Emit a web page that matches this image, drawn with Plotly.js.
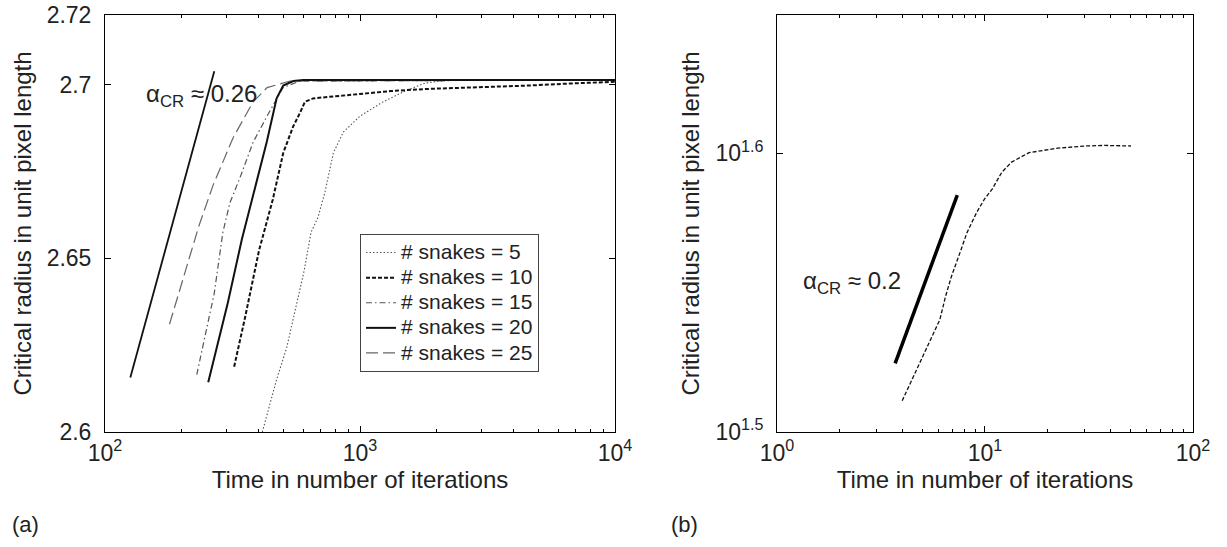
<!DOCTYPE html>
<html><head><meta charset="utf-8">
<script src="https://cdn.plot.ly/plotly-3.0.1.min.js"></script>
<style>body{margin:0;background:#fff}#c{width:1227px;height:547px}</style>
</head><body><div id="c"></div>
<script>
// ---- panel (a) data ----
const fitA_x = [125.7, 268.3];
const fitA_y = [2.6157, 2.7038];
const s5_x  = [414, 470, 516, 565, 604, 643, 684, 729, 786, 860, 1000, 1231, 1501, 1798, 2174, 2955, 10000];
const s5_y  = [2.6, 2.6149, 2.6243, 2.6371, 2.6464, 2.6575, 2.6617, 2.6691, 2.6803, 2.6863, 2.6909, 2.695, 2.6981, 2.7004, 2.7012, 2.7013, 2.7013];
const s10_x = [321, 355, 402, 455, 500, 546, 582, 608, 654, 784, 965, 1318, 1798, 2463, 3370, 4599, 6292, 8601, 10000];
const s10_y = [2.6188, 2.6333, 2.6523, 2.6669, 2.6803, 2.6878, 2.6919, 2.695, 2.696, 2.6966, 2.6971, 2.6981, 2.6987, 2.699, 2.6992, 2.6997, 2.7002, 2.7006, 2.7008];
const s15_x = [229, 245, 268, 290, 309, 338, 381, 432, 499, 582, 10000];
const s15_y = [2.6165, 2.6268, 2.6398, 2.6575, 2.666, 2.6731, 2.6834, 2.6909, 2.6991, 2.701, 2.7013];
const s20_x = [254, 303, 344, 396, 431, 471, 500, 548, 599, 10000];
const s20_y = [2.6143, 2.6371, 2.6554, 2.6731, 2.6835, 2.696, 2.6997, 2.701, 2.7013, 2.7013];
const s25_x = [179, 202, 233, 265, 318, 381, 432, 532, 10000];
const s25_y = [2.631, 2.6436, 2.6591, 2.6709, 2.6847, 2.695, 2.6991, 2.701, 2.7013];
const legendNames = ["# snakes = 5", "# snakes = 10", "# snakes = 15", "# snakes = 20", "# snakes = 25"];
const yTicksA = [2.6, 2.65, 2.7, 2.72];
const yTickTextA = ["2.6", "2.65", "2.7", "2.72"];
const xTicksA = [100, 1000, 10000];
const xTickTextA = ["10<sup>2</sup>", "10<sup>3</sup>", "10<sup>4</sup>"];

// ---- panel (b) data ----
const fitB_x = [3.70, 7.36];
const fitB_y = [33.47, 38.46];
const curveB_x = [4.0, 4.59, 5.45, 6.07, 6.47, 6.90, 7.68, 8.19, 9.12, 9.94, 10.83, 12.05, 13.42, 16.28, 22.46, 30.33, 37.6, 50.3];
const curveB_y = [32.45, 33.19, 34.13, 34.70, 35.38, 35.96, 36.77, 37.28, 37.91, 38.33, 38.65, 39.19, 39.52, 39.83, 39.98, 40.05, 40.07, 40.05];
const yTicksB = [31.6228, 39.8107];
const yTickTextB = ["10<sup>1.5</sup>", "10<sup>1.6</sup>"];
const xTicksB = [1, 10, 100];
const xTickTextB = ["10<sup>0</sup>", "10<sup>1</sup>", "10<sup>2</sup>"];

function minors(d0, d1){ const a=[]; for(let d=d0; d<d1; d++){ for(let k=2;k<=9;k++) a.push(k*Math.pow(10,d)); } return a; }
function big(s){ return '<span style="font-size:21px">' + s + '</span>'; }

const FONT = "Liberation Sans, Arial, Helvetica, sans-serif";
const TXT = "#222";

const traces = [
  {x: s25_x, y: s25_y, name: big(legendNames[4]), mode:"lines", line:{color:"#666", width:1.2, dash:"12px,5px"}, xaxis:"x", yaxis:"y", legendrank:5},
  {x: s15_x, y: s15_y, name: big(legendNames[2]), mode:"lines", line:{color:"#555", width:1.2, dash:"6px,3px,1.5px,3px"}, xaxis:"x", yaxis:"y", legendrank:3},
  {x: s5_x,  y: s5_y,  name: big(legendNames[0]), mode:"lines", line:{color:"#555", width:1.1, dash:"1.5px,2px"}, xaxis:"x", yaxis:"y", legendrank:1},
  {x: s10_x, y: s10_y, name: big(legendNames[1]), mode:"lines", line:{color:"#111", width:2, dash:"4px,2px"}, xaxis:"x", yaxis:"y", legendrank:2},
  {x: s20_x, y: s20_y, name: big(legendNames[3]), mode:"lines", line:{color:"#111", width:2}, xaxis:"x", yaxis:"y", legendrank:4},
  {x: fitA_x, y: fitA_y, mode:"lines", line:{color:"#111", width:1.8}, showlegend:false, xaxis:"x", yaxis:"y"},
  {x: curveB_x, y: curveB_y, mode:"lines", line:{color:"#111", width:1.3, dash:"4px,2px"}, showlegend:false, xaxis:"x2", yaxis:"y2"},
  {x: fitB_x, y: fitB_y, mode:"lines", line:{color:"#000", width:3.5}, showlegend:false, xaxis:"x2", yaxis:"y2"}
];

const axBase = {showline:true, linecolor:"#000", linewidth:1, mirror:"ticks", ticks:"inside", ticklen:6, tickcolor:"#000",
  showgrid:false, zeroline:false, tickfont:{family:FONT, size:23, color:TXT}};

const layout = {
  width:1227, height:547, margin:{l:105, r:34, t:15, b:115},
  paper_bgcolor:"#fff", plot_bgcolor:"#fff", font:{family:FONT, color:TXT},
  xaxis: Object.assign({}, axBase, {type:"log", domain:[0,0.46875], range:[2,4], tickmode:"array", tickvals:xTicksA, ticktext:xTickTextA,
    minor:{tickvals:minors(2,4), ticks:"inside", ticklen:3, tickcolor:"#000"}, ticklabelstandoff:0,
    title:{text:"Time in number of iterations", font:{family:FONT, size:24, color:TXT}, standoff:1}}),
  yaxis: Object.assign({}, axBase, {type:"linear", range:[2.6,2.72], tickmode:"array", tickvals:yTicksA, ticktext:yTickTextA, ticklabelstandoff:8,
    title:{text:"Critical radius in unit pixel length", font:{family:FONT, size:24, color:TXT}, standoff:8}}),
  xaxis2: Object.assign({}, axBase, {type:"log", domain:[0.6176,1], range:[0,2], anchor:"y2", tickmode:"array", tickvals:xTicksB, ticktext:xTickTextB,
    minor:{tickvals:minors(0,2), ticks:"inside", ticklen:3, tickcolor:"#000"}, ticklabelstandoff:0,
    title:{text:"Time in number of iterations", font:{family:FONT, size:24, color:TXT}, standoff:1}}),
  yaxis2: Object.assign({}, axBase, {type:"log", range:[1.5,1.6496], anchor:"x2", tickmode:"array", tickvals:yTicksB, ticktext:yTickTextB, ticklabelstandoff:8,
    title:{text:"Critical radius in unit pixel length", font:{family:FONT, size:24, color:TXT}, standoff:8}}),
  showlegend:true,
  legend:{x:0.2344, y:0.4748, xanchor:"left", yanchor:"top", bgcolor:"#fff", bordercolor:"#444", borderwidth:1,
    font:{family:FONT, size:17, color:TXT}, traceorder:"normal", itemwidth:30, tracegroupgap:0},
  annotations:[
    {xref:"paper", yref:"paper", x:0.0358, y:0.8058, xanchor:"left", yanchor:"middle", showarrow:false,
     text:"α<sub>CR</sub> ≈ 0.26", font:{family:FONT, size:24, color:TXT}},
    {xref:"paper", yref:"paper", x:0.6397, y:0.3597, xanchor:"left", yanchor:"middle", showarrow:false,
     text:"α<sub>CR</sub> ≈ 0.2", font:{family:FONT, size:24, color:TXT}},
    {xref:"paper", yref:"paper", x:-0.0873, y:-0.222, xanchor:"left", yanchor:"middle", showarrow:false,
     text:"(a)", font:{family:FONT, size:22, color:TXT}},
    {xref:"paper", yref:"paper", x:0.5184, y:-0.222, xanchor:"left", yanchor:"middle", showarrow:false,
     text:"(b)", font:{family:FONT, size:22, color:TXT}}
  ]
};

Plotly.newPlot("c", traces, layout, {staticPlot:true, displayModeBar:false});
</script>
</body></html>
